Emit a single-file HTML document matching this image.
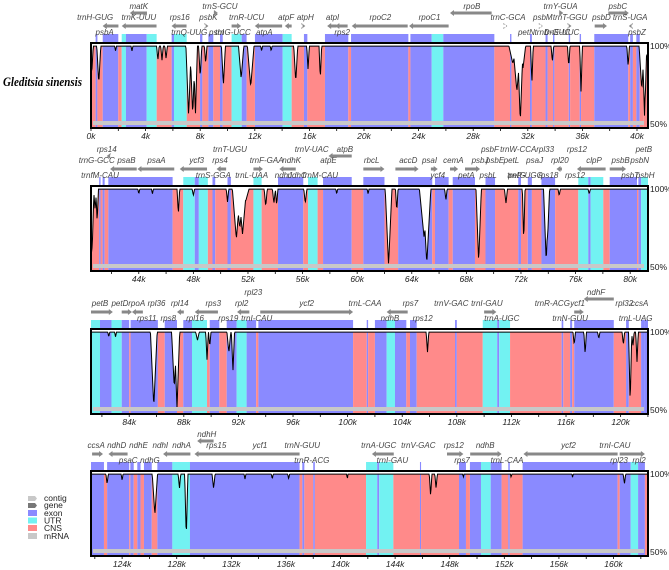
<!DOCTYPE html>
<html><head><meta charset="utf-8"><style>
html,body{margin:0;padding:0;background:#fff;}
svg{display:block;font-family:"Liberation Sans",sans-serif;}
.g{font-style:italic;font-size:8px;fill:#444;}
.t{font-style:italic;font-size:8.5px;fill:#222;}
.p{font-size:8.5px;fill:#222;}
</style></head><body>
<svg id="chart" width="669" height="570" viewBox="0 0 669 570">
<text x="3" y="86" font-family="Liberation Serif,serif" font-weight="bold" font-style="italic" font-size="12.5" textLength="79" lengthAdjust="spacingAndGlyphs" fill="#000">Gleditsia sinensis</text>
<g>
<polygon points="28,496 35,496 37,498.5 35,501 28,501" fill="#c8c8c8"/>
<text x="44" y="501" class="p" fill="#333">contig</text>
<polygon points="28,503 35,503 37,505.5 35,508 28,508" fill="#777"/>
<text x="44" y="508" class="p">gene</text>
<rect x="28" y="510" width="9" height="6" fill="#8a8aff"/>
<text x="44" y="516" class="p">exon</text>
<rect x="28" y="517.5" width="9" height="6" fill="#72f2f2"/>
<text x="44" y="523.5" class="p">UTR</text>
<rect x="28" y="525" width="9" height="6" fill="#ff8a8a"/>
<text x="44" y="531" class="p">CNS</text>
<rect x="28" y="533" width="9" height="6" fill="#c8c8c8"/>
<text x="44" y="539" class="p">mRNA</text>
</g>
</svg>
<script>
// ---- data ----
const panelStarts = [0, 40.5, 81.2, 121.72];
const panelTops = [43, 186, 329, 471];
const regions = [
[0,"P"],[0.34,"E"],[0.47,"P"],[0.86,"E"],[2.0,"P"],[2.25,"U"],[2.56,"E"],[4.08,"U"],[4.81,"P"],[5.91,"E"],[6.08,"U"],[7.01,"P"],[7.99,"E"],[8.16,"P"],[8.6,"E"],[8.96,"P"],[9.45,"E"],[9.65,"P"],[10.3,"U"],[11.04,"E"],[11.4,"P"],[12.01,"E"],[14.04,"U"],[14.7,"P"],[15.6,"E"],[15.85,"P"],[17.14,"E"],[18.85,"P"],[19.05,"E"],[23.25,"P"],[23.4,"E"],[24.96,"U"],[25.81,"E"],[29.55,"P"],[30.7,"E"],[30.8,"P"],[32.16,"E"],[32.3,"P"],[33.3,"E"],[33.45,"P"],[33.85,"E"],[33.95,"P"],[35.0,"E"],[35.1,"P"],[35.8,"E"],[35.9,"P"],[36.87,"E"],[39.36,"P"],[39.5,"E"],[39.7,"P"],[39.95,"E"],[40.2,"P"],
[40.5,"P"],[41.1,"E"],[41.2,"P"],[41.35,"E"],[41.5,"P"],[41.77,"E"],[46.48,"P"],[47.26,"U"],[48.1,"E"],[48.4,"U"],[49.06,"P"],[49.4,"E"],[49.6,"P"],[50.5,"E"],[50.75,"P"],[52.4,"U"],[53.0,"P"],[54.2,"E"],[56.05,"P"],[56.4,"U"],[57.1,"P"],[57.5,"E"],[59.6,"P"],[60.45,"E"],[62.0,"P"],[63.0,"E"],[65.5,"P"],[65.7,"E"],[66.7,"P"],[67.0,"E"],[68.63,"P"],[69.4,"E"],[70.1,"P"],[71.8,"E"],[72.0,"P"],[72.5,"E"],[72.8,"P"],[73.5,"E"],[74.5,"P"],[76.2,"U"],[76.93,"E"],[77.1,"U"],[78.03,"P"],[78.5,"E"],[80.5,"P"],[80.6,"E"],[80.8,"U"],
[81.2,"U"],[81.86,"E"],[82.7,"U"],[83.45,"E"],[84.0,"P"],[84.1,"E"],[86.1,"P"],[86.6,"E"],[87.5,"P"],[87.96,"E"],[88.6,"U"],[89.7,"P"],[89.9,"E"],[90.6,"P"],[91.14,"E"],[91.87,"U"],[92.6,"E"],[93.3,"P"],[93.46,"E"],[100.4,"P"],[101.4,"E"],[101.5,"P"],[102.0,"E"],[102.86,"U"],[103.47,"E"],[104.3,"P"],[104.57,"E"],[105.06,"P"],[107.87,"E"],[108.0,"P"],[109.9,"U"],[110.96,"E"],[111.1,"U"],[111.9,"P"],[115.68,"E"],[115.8,"P"],[116.3,"E"],[116.45,"P"],[116.6,"E"],[119.5,"P"],[120.4,"E"],[120.6,"P"],[121.5,"E"],
[121.72,"E"],[122.67,"P"],[122.9,"E"],[124.52,"P"],[124.6,"E"],[124.85,"P"],[125.11,"E"],[125.35,"P"],[125.6,"E"],[126.17,"P"],[126.58,"E"],[127.68,"U"],[128.97,"E"],[137.0,"P"],[137.2,"E"],[137.35,"P"],[138.0,"E"],[138.12,"P"],[141.87,"U"],[142.69,"E"],[142.83,"U"],[143.87,"P"],[145.82,"E"],[145.9,"P"],[148.68,"E"],[149.19,"P"],[149.48,"E"],[150.29,"U"],[151.0,"E"],[151.8,"P"],[152.29,"E"],[152.4,"P"],[153.34,"E"],[160.3,"P"],[160.45,"E"],[161.26,"U"],[161.8,"E"],[162.3,"P"],[162.7,""]];
const dipPos =   [0.05,0.57,4.9,5.2,5.5,7.15,7.45,7.65,8.0,8.4,9.7,11.0,11.7,15.0,15.9,16.8,1.8,3.0,12.5,13.2,30.9,31.2,31.45,31.65,32.3,33.8,35.0,35.9,39.35,40.35,40.55,
 40.6,40.8,40.95,46.9,48.0,50.5,51.15,51.4,51.6,51.85,53.3,53.9,54.1,56.2,44.0,45.0,58.5,62.3,62.9,64.9,65.1,66.5,68.9,70.9,72.2,73.85,73.95,74.8,60.8,77.0,
 85.8,87.3,87.5,89.0,89.7,89.9,91.3,91.6,105.85,116.6,117.4,118.4,120.2,120.7,120.9,121.2,82.5,83.0,
 122.9,126.4,128.2,128.7,130.7,124.0,133.0,135.0,136.2,146.6,147.0,160.8,140.5,149.0,152.5,157.0];
const dipPct =   [81,75,90,90,91,54,55,54,79,88,74,78,73,76,84,78,96,96,96,96,88,70,50,85,75,89,86,69,86,71,54,
 64,86,78,83,95,91,67,74,70,92,88,90,89,90,96,96,96,50,85,68,51,92,52,90,65,52,67,95,96,96,
 51,63,50,94,81,90,86,74,86,91,85,95,91,53,90,80,96,96,
 93,73,90,58,90,95,96,96,96,85,90,93,96,97,97,97];
const dipWidth = [0.12,0.15,0.1,0.1,0.1,0.2,0.2,0.15,0.12,0.1,0.15,0.2,0.25,0.15,0.1,0.1,0.08,0.08,0.08,0.08,0.3,0.3,0.2,0.2,0.1,0.1,0.1,0.1,0.1,0.2,0.15,
 0.12,0.12,0.1,0.1,0.1,0.1,0.3,0.3,0.3,0.25,0.12,0.12,0.1,0.12,0.08,0.08,0.08,0.25,0.1,0.35,0.3,0.1,0.2,0.12,0.1,0.2,0.15,0.1,0.08,0.1,
 0.25,0.2,0.2,0.15,0.1,0.1,0.15,0.12,0.1,0.1,0.1,0.1,0.1,0.12,0.1,0.1,0.08,0.08,
 0.1,0.2,0.1,0.12,0.12,0.08,0.08,0.08,0.08,0.1,0.1,0.1,0.06,0.06,0.06,0.06];
const geneNames = ["matK","trnS-GCU","rpoB","trnY-GUA","psbC","trnH-GUG","trnK-UUU","rps16","psbK","trnR-UCU","atpF","atpH","atpI","rpoC2","rpoC1","trnC-GCA","psbM","trnT-GGU","psbD","trnS-UGA","psbA","trnQ-UUG","psbI","trnG-UCC","atpA","rps2","petN","trnD-GUC","trnE-UUC","psbZ",
"rps14","trnT-UGU","trnV-UAC","atpB","psbF","trnW-CCA","rpl33","rps12","petB","trnG-GCC","psaB","psaA","ycf3","rps4","trnF-GAA","ndhK","atpE","rbcL","accD","psaI","cemA","psbJ","psbE","petL","psaJ","rpl20","clpP","psbB","psbN","trnfM-CAU","trnS-GGA","trnL-UAA","ndhJ","ndhC","trnM-CAU","ycf4","petA","psbL","petG","trnP-UGG","rps18","rps12","psbT","psbH",
"rpl23","ndhF","petB","petD","rpoA","rpl36","rpl14","rps3","rpl2","ycf2","trnL-CAA","rps7","trnV-GAC","trnI-GAU","trnR-ACG","ycf1","rpl32","ccsA","rps11","rps8","rpl16","rps19","trnI-CAU","ndhB","rps12","trnA-UGC","trnN-GUU","trnL-UAG",
"ndhH","ccsA","ndhD","ndhE","ndhI","ndhA","rps15","ycf1","trnN-GUU","trnA-UGC","trnV-GAC","rps12","ndhB","ycf2","trnI-CAU","psaC","ndhG","trnR-ACG","trnI-GAU","rps7","trnL-CAA","rpl23","rpl2"];
const geneLabelKb = [3.5,9.45,27.9,34.4,38.6,0.3,3.5,6.5,8.6,11.4,14.3,15.7,17.7,21.2,24.8,30.55,33.1,35.1,37.4,39.5,1.0,7.2,9.2,10.4,12.7,18.4,31.9,33.8,34.5,40.0,
41.65,50.68,56.67,59.1,69.73,71.8,73.77,76.1,81.0,40.92,43.1,45.3,48.24,49.95,53.37,55.2,57.9,61.06,63.75,65.3,67.05,69.0,70.1,71.3,73.0,74.85,77.35,79.3,80.7,41.16,49.46,52.27,54.6,55.6,57.3,65.9,68.0,69.6,71.7,72.3,74.0,75.96,80.0,81.1,
93.09,118.2,81.86,83.32,84.55,86.0,87.7,90.16,92.24,97.0,101.27,104.6,107.6,110.2,115.0,116.85,120.27,121.4,85.28,86.86,88.82,91.26,93.34,103.1,105.5,111.3,116.3,121.1,
130.2,122.1,123.6,125.2,126.8,128.36,130.9,134.1,137.2,142.8,145.7,148.3,150.6,156.7,160.1,124.45,126.04,137.9,143.8,148.9,152.2,160.4,161.87];
const geneRows = [0,0,0,0,0,1,1,1,1,1,1,1,1,1,1,1,1,1,1,1,2,2,2,2,2,2,2,2,2,2,
0,0,0,0,0,0,0,0,0,1,1,1,1,1,1,1,1,1,1,1,1,1,1,1,1,1,1,1,1,2,2,2,2,2,2,2,2,2,2,2,2,2,2,2,
0,0,1,1,1,1,1,1,1,1,1,1,1,1,1,1,1,1,2,2,2,2,2,2,2,2,2,2,
0,1,1,1,1,1,1,1,1,1,1,1,1,1,1,2,2,2,2,2,2,2,2];
const arrowFrom = [4.1,9.0,29.35,34.3,37.9,2.0,4.8,7.0,8.4,10.3,14.7,15.5,18.0,23.2,26.2,30.4,33.0,35.0,36.9,39.6,2.0,0,0,0,14.0,18.8,0,0,0,0,
41.9,0,0,59.6,0,0,0,0,0,0,43.85,46.6,49.0,50.4,52.4,55.5,0,60.45,62.8,65.4,66.8,0,0,0,0,75.0,78.2,78.5,0,0,0,0,0,0,0,0,67.9,0,0,0,0,0,0,0,
0,119.5,81.2,83.45,85.0,0,88.0,90.5,92.8,93.6,0,104.4,0,110.0,0,116.6,0,0,0,0,0,0,0,0,0,0,0,0,
130.7,121.8,124.4,0,0,129.0,0,137.0,0,143.9,0,147.8,149.5,160.3,160.45,0,0,0,0,0,0,0,0];
const arrowTo = [2.85,9.3,26.3,34.6,39.4,0.86,2.25,5.9,8.6,11.0,14.2,15.7,17.3,19.1,23.3,30.5,33.1,35.2,37.8,39.4,0.86,0,0,0,12.0,17.9,0,0,0,0,
41.65,0,0,57.9,0,0,0,0,0,0,41.9,43.9,47.0,49.7,53.1,54.3,0,62.0,64.5,65.9,67.4,0,0,0,0,74.6,76.1,79.7,0,0,0,0,0,0,0,0,69.0,0,0,0,0,0,0,0,
0,117.3,82.8,84.2,84.2,0,87.5,88.8,91.9,100.4,0,102.86,0,110.9,0,117.3,0,0,0,0,0,0,0,0,0,0,0,0,
129.5,122.6,123.0,0,0,127.0,0,129.3,0,142.3,0,149.0,151.8,153.4,162.3,0,0,0,0,0,0,0,0];
const xTickLabels = ["0k","4k","8k","12k","16k","20k","24k","28k","32k","36k","40k","44k","48k","52k","56k","60k","64k","68k","72k","76k","80k","84k","88k","92k","96k","100k","104k","108k","112k","116k","120k","124k","128k","132k","136k","140k","144k","148k","152k","156k","160k"];

// ---- drawing ----
const NS = "http://www.w3.org/2000/svg";
const svg = document.getElementById("chart");
const X0 = 91, X1 = 648, PXK = 13.65, H = 85;
const colors = {P:"#ff8a8a", E:"#8a8aff", U:"#72f2f2"};
function mk(tag, attrs, parent){const e=document.createElementNS(NS,tag);for(const k in attrs)e.setAttribute(k,attrs[k]);(parent||svg).appendChild(e);return e;}
function xScale(p, kb){return X0 + (kb - panelStarts[p]) * PXK;}
function yScale(p, pct){return panelTops[p] + 2 + (100 - pct) / 50 * (H - 8);}
function pctAt(kb){let v=99.3;for(let i=0;i<dipPos.length;i++){const d=Math.abs(kb-dipPos[i]);if(d<dipWidth[i]){const q=100-(100-dipPct[i])*(1-d/dipWidth[i]);if(q<v)v=q;}}return v;}

for (let p = 0; p < panelStarts.length; p++) {
  const top = panelTops[p], s = panelStarts[p], e = s + (X1 - X0) / PXK;
  const g = mk("g", {});
  
  
  const clipId = "clip" + p;
  const cp = mk("clipPath", {id: clipId}, g);
  mk("rect", {x: X0, y: top - 12, width: X1 - X0, height: H + 12}, cp);
  const rg = mk("g", {"clip-path": "url(#" + clipId + ")"}, g);
  for (let i = 0; i < regions.length - 1; i++) {
    const a = regions[i][0], b = regions[i + 1][0], ty = regions[i][1];
    if (b <= s || a >= e || !colors[ty]) continue;
    const ext = ty === "P" ? 0 : 9;
    const r = mk("rect", {x: xScale(p, a), y: top - ext, width: Math.max(0.6, (b - a) * PXK), height: H + ext, fill: colors[ty]}, rg);
    
    
  }
  let line = [];
  for (let x = X0; x <= X1; x += 0.5) {
    const kb = s + (x - X0) / PXK;
    const y = yScale(p, pctAt(kb));
    line.push(x.toFixed(1) + "," + y.toFixed(1));
  }
  const fill = mk("polygon", {points: X0 + "," + top + " " + line.join(" ") + " " + X1 + "," + top, fill: "#fff"}, g);
  
  
  const pl = mk("polyline", {points: line.join(" "), fill: "none", stroke: "#000", "stroke-width": 1}, g);
  
  
  const bar = mk("rect", {x: X0 + 2, y: top + H - 7, width: X1 - X0 - 6, height: 4, fill: "#c8c8c8"}, g);
  
  
  const fr = mk("rect", {x: X0, y: top, width: X1 - X0, height: H, fill: "none", stroke: "#000", "stroke-width": 2}, g);
  
  
  const l100 = mk("text", {x: X1 + 2, y: top + 6, class: "p"}, g); l100.textContent = "100%";
  
  
  const l50 = mk("text", {x: X1 + 2, y: top + H - 1, class: "p"}, g); l50.textContent = "50%";
  
  
  for (let k = Math.ceil(s / 2) * 2; k <= e; k += 2) {
    const x = xScale(p, k);
    mk("line", {x1: x, x2: x, y1: top + H, y2: top + H + 3, stroke: "#000", "stroke-width": 0.8}, g);
    if (k % 4 === 0) {
      const t = mk("text", {x: x, y: top + H + 11, class: "t", "text-anchor": "middle"}, g);
      t.textContent = xTickLabels[k / 4];
      
      
    }
  }
  const labelOff = [-34, -23, -8], arrowOff = [-30, -17, -17];
  for (let i = 0; i < geneNames.length; i++) {
    const kb = geneLabelKb[i];
    if ((p === 0 && i >= 30) || (p === 1 && (i < 30 || i >= 74)) || (p === 2 && (i < 74 || i >= 102)) || (p === 3 && i < 102)) continue;
    const row = geneRows[i];
    const a = arrowFrom[i], b = arrowTo[i];
    if (a || b) {
      const xa = xScale(p, a), xb = xScale(p, b), y = top + arrowOff[row];
      const dir = xb > xa ? 1 : -1, hx = xb - dir * 4;
      const ar = mk("polygon", {points: xa + "," + (y - 1.5) + " " + hx + "," + (y - 1.5) + " " + hx + "," + (y - 3) + " " + xb + "," + y + " " + hx + "," + (y + 3) + " " + hx + "," + (y + 1.5) + " " + xa + "," + (y + 1.5), fill: "#888"}, g);
      
      
    }
    const t = mk("text", {x: xScale(p, kb), y: top + labelOff[row], class: "g", "text-anchor": "middle"}, g);
    t.textContent = geneNames[i];
    
    
  }
}
</script>
</body></html>
